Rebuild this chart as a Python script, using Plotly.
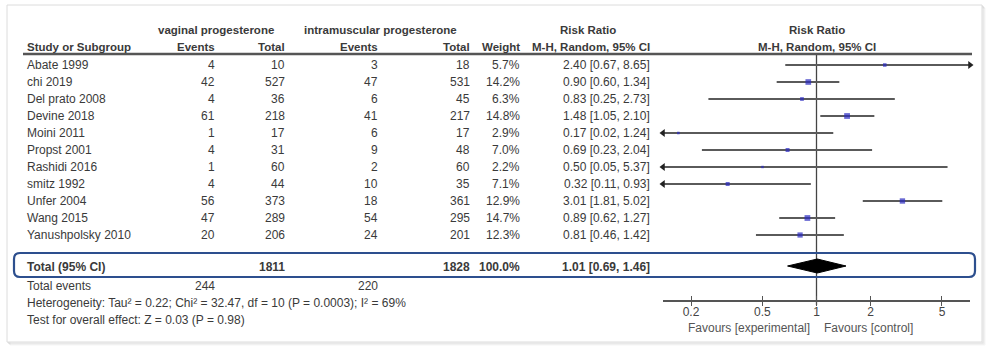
import math
import plotly.graph_objects as go

# ---------------- data ----------------
studies = ["Abate 1999", "chi 2019", "Del prato 2008", "Devine 2018", "Moini 2011",
           "Propst 2001", "Rashidi 2016", "smitz 1992", "Unfer 2004", "Wang 2015",
           "Yanushpolsky 2010"]
vag_events = [4, 42, 4, 61, 1, 4, 1, 4, 56, 47, 20]
vag_total = [10, 527, 36, 218, 17, 31, 60, 44, 373, 289, 206]
im_events = [3, 47, 6, 41, 6, 9, 2, 10, 18, 54, 24]
im_total = [18, 531, 45, 217, 17, 48, 60, 35, 361, 295, 201]
weight = [5.7, 14.2, 6.3, 14.8, 2.9, 7.0, 2.2, 7.1, 12.9, 14.7, 12.3]
rr = [2.40, 0.90, 0.83, 1.48, 0.17, 0.69, 0.50, 0.32, 3.01, 0.89, 0.81]
rr_lo = [0.67, 0.60, 0.25, 1.05, 0.02, 0.23, 0.05, 0.11, 1.81, 0.62, 0.46]
rr_hi = [8.65, 1.34, 2.73, 2.10, 1.24, 2.04, 5.37, 0.93, 5.02, 1.27, 1.42]

total_vag = 1811
total_im = 1828
events_vag = 244
events_im = 220
pooled = [0.69, 1.01, 1.46]  # lo, estimate, hi
total_weight = "100.0%"

tick_vals = [0.2, 0.5, 1, 2, 5]
tick_text = ["0.2", "0.5", "1", "2", "5"]

het_text = "Heterogeneity: Tau² = 0.22; Chi² = 32.47, df = 10 (P = 0.0003); I² = 69%"
test_text = "Test for overall effect: Z = 0.03 (P = 0.98)"

# ---------------- layout constants ----------------
W, H = 994, 354
FONT = "Liberation Sans, Arial, sans-serif"
TXT = "#3a3a3a"
ROW0, ROWH = 65, 17
row_y = [ROW0 + ROWH * i for i in range(len(studies))]
Y_H1, Y_H2, Y_LINE = 30, 47, 54
Y_TOTAL, Y_EVENTS, Y_HET, Y_TEST = 267, 286, 303, 320
AXIS_Y = 301
LOG_LO, LOG_HI = -0.855, 0.855
XMIN, XMAX = 10 ** LOG_LO, 10 ** LOG_HI

def px(x):
    return x / W

annotations = []

def txt(s, x, y, anchor="left", bold=False, size=12, color=TXT):
    annotations.append(dict(
        text=f"<b>{s}</b>" if bold else s, x=px(x), y=y, xref="paper", yref="y",
        xanchor=anchor, yanchor="middle", showarrow=False,
        font=dict(family=FONT, size=size, color=color)))

# headers
HS = 11.5
txt("vaginal progesterone", 216, Y_H1, "center", True, HS)
txt("intramuscular progesterone", 380, Y_H1, "center", True, HS)
txt("Risk Ratio", 588, Y_H1, "center", True, HS)
txt("Risk Ratio", 817, Y_H1, "center", True, HS)
txt("Study or Subgroup", 25, Y_H2, "left", True, HS)
txt("Events", 217, Y_H2, "right", True, HS)
txt("Total", 287, Y_H2, "right", True, HS)
txt("Events", 380, Y_H2, "right", True, HS)
txt("Total", 472, Y_H2, "right", True, HS)
txt("Weight", 522, Y_H2, "right", True, HS)
txt("M-H, Random, 95% CI", 652, Y_H2, "right", True, HS)
txt("M-H, Random, 95% CI", 817, Y_H2, "center", True, HS)

# study rows
for i, s in enumerate(studies):
    y = row_y[i]
    txt(s, 25, y)
    txt(str(vag_events[i]), 217, y, "right")
    txt(str(vag_total[i]), 287, y, "right")
    txt(str(im_events[i]), 380, y, "right")
    txt(str(im_total[i]), 472, y, "right")
    txt(f"{weight[i]:.1f}%", 522, y, "right")
    txt(f"{rr[i]:.2f} [{rr_lo[i]:.2f}, {rr_hi[i]:.2f}]", 652, y, "right")

# total rows
txt("Total (95% CI)", 25, Y_TOTAL, "left", True)
txt(str(total_vag), 287, Y_TOTAL, "right", True)
txt(str(total_im), 472, Y_TOTAL, "right", True)
txt(total_weight, 522, Y_TOTAL, "right", True)
txt(f"{pooled[1]:.2f} [{pooled[0]:.2f}, {pooled[2]:.2f}]", 652, Y_TOTAL, "right", True)
txt("Total events", 25, Y_EVENTS)
txt(str(events_vag), 217, Y_EVENTS, "right")
txt(str(events_im), 380, Y_EVENTS, "right")
txt(het_text, 25, Y_HET)
txt(test_text, 25, Y_TEST)
txt("Favours [experimental]", 749, 328, "center", False, 12, "#555")
txt("Favours [control]", 868, 328, "center", False, 12, "#555")

# ---------------- traces ----------------
fig = go.Figure()

# reference line at RR = 1
fig.add_trace(go.Scatter(x=[1, 1], y=[Y_LINE + 1, AXIS_Y + 4], mode="lines",
                         line=dict(color="#444", width=1.3), hoverinfo="skip",
                         cliponaxis=False))

# CI lines
cx, cy = [], []
for i in range(len(studies)):
    cx += [max(rr_lo[i], XMIN), min(rr_hi[i], XMAX), None]
    cy += [row_y[i], row_y[i], None]
fig.add_trace(go.Scatter(x=cx, y=cy, mode="lines", line=dict(color="#5a5a5a", width=2),
                         hoverinfo="skip", cliponaxis=False))

# arrowheads for truncated CIs
lx = [XMIN for i in range(len(studies)) if rr_lo[i] < XMIN]
ly = [row_y[i] for i in range(len(studies)) if rr_lo[i] < XMIN]
rx = [XMAX for i in range(len(studies)) if rr_hi[i] > XMAX]
ry = [row_y[i] for i in range(len(studies)) if rr_hi[i] > XMAX]
fig.add_trace(go.Scatter(x=lx, y=ly, mode="markers",
                         marker=dict(symbol="triangle-left", size=7, color="#222"),
                         cliponaxis=False, hoverinfo="skip"))
fig.add_trace(go.Scatter(x=rx, y=ry, mode="markers",
                         marker=dict(symbol="triangle-right", size=7, color="#222"),
                         cliponaxis=False, hoverinfo="skip"))

# point estimates
fig.add_trace(go.Scatter(x=rr, y=row_y, mode="markers",
                         marker=dict(symbol="square", color="#2a2ac0",
                                     size=[max(2.4, 1.5 * math.sqrt(w)) for w in weight],
                                     line=dict(width=0)),
                         cliponaxis=False, hoverinfo="skip"))

# pooled diamond
fig.add_trace(go.Scatter(x=[pooled[0], pooled[1], pooled[2], pooled[1], pooled[0]],
                         y=[Y_TOTAL - 1, Y_TOTAL - 8, Y_TOTAL - 1, Y_TOTAL + 6, Y_TOTAL - 1],
                         mode="lines", fill="toself", fillcolor="#000",
                         line=dict(color="#000", width=1), hoverinfo="skip",
                         cliponaxis=False))

# invisible traces for the tick axes
for ax in ["x2", "x3"]:
    fig.add_trace(go.Scatter(x=[1], y=[AXIS_Y], xaxis=ax, mode="markers",
                             marker=dict(opacity=0), hoverinfo="skip"))

# ---------------- shapes ----------------
shapes = []
# card shadow + card
for off, col in [(3, "rgba(0,0,0,0.04)"), (2, "rgba(0,0,0,0.07)"), (1, "rgba(0,0,0,0.10)")]:
    shapes.append(dict(type="rect", xref="paper", yref="y", x0=px(7 + off), x1=px(982 + off),
                       y0=5 + off, y1=342 + off, line=dict(color=col, width=1),
                       fillcolor="rgba(0,0,0,0)", layer="below"))
shapes.append(dict(type="rect", xref="paper", yref="y", x0=px(7), x1=px(982), y0=5, y1=342,
                   line=dict(color="#dcdcdc", width=1), fillcolor="white", layer="below"))
# header rule
shapes.append(dict(type="line", xref="paper", yref="y", x0=px(23), x1=px(972),
                   y0=Y_LINE, y1=Y_LINE, line=dict(color="#555", width=2.5)))
# rounded highlight box around total row
bx0, bx1, by0, by1, r = 14, 975, 253, 277, 6
path = (f"M {px(bx0 + r)},{by0} L {px(bx1 - r)},{by0} Q {px(bx1)},{by0} {px(bx1)},{by0 + r} "
        f"L {px(bx1)},{by1 - r} Q {px(bx1)},{by1} {px(bx1 - r)},{by1} "
        f"L {px(bx0 + r)},{by1} Q {px(bx0)},{by1} {px(bx0)},{by1 - r} "
        f"L {px(bx0)},{by0 + r} Q {px(bx0)},{by0} {px(bx0 + r)},{by0} Z")
shapes.append(dict(type="path", xref="paper", yref="y", path=path,
                   line=dict(color="#2d4f8e", width=2.2), fillcolor="rgba(0,0,0,0)"))

dom = [663 / W, 970 / W]
pos = 1 - AXIS_Y / H
tick_axis = dict(type="log", domain=dom, range=[LOG_LO, LOG_HI], anchor="free", position=pos,
                 overlaying="x", showline=False, tickwidth=1.3, tickcolor="#555",
                 tickvals=tick_vals, showticklabels=False, showgrid=False, zeroline=False)
fig.update_layout(
    width=W, height=H, margin=dict(l=0, r=0, t=0, b=0),
    paper_bgcolor="white", plot_bgcolor="rgba(0,0,0,0)", showlegend=False,
    annotations=annotations, shapes=shapes,
    xaxis=dict(type="log", domain=dom, range=[LOG_LO, LOG_HI], anchor="free", position=pos,
               showline=True, linecolor="#555", linewidth=1.5, ticks="",
               tickvals=tick_vals, ticktext=tick_text,
               tickfont=dict(family=FONT, size=12, color="#444"), showgrid=False,
               zeroline=False, fixedrange=True),
    xaxis2=dict(tick_axis, ticks="inside", ticklen=5),
    xaxis3=dict(tick_axis, ticks="outside", ticklen=4),
    yaxis=dict(range=[H, 0], domain=[0, 1], visible=False, fixedrange=True),
)

fig.write_html("out.html")
